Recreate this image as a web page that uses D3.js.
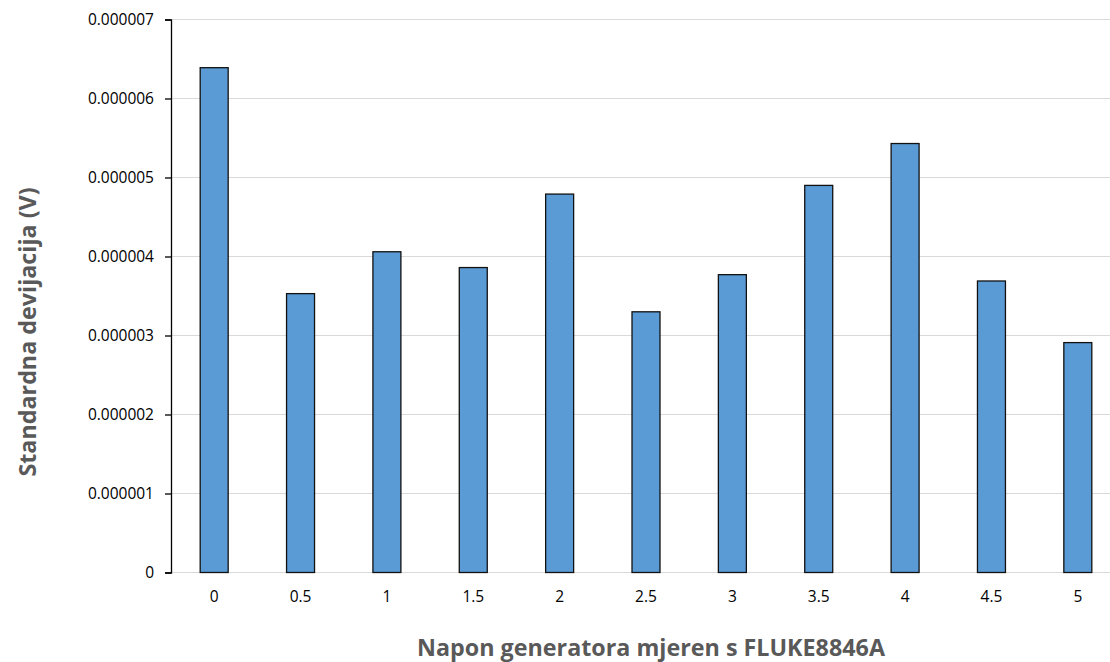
<!DOCTYPE html>
<html><head><meta charset="utf-8">
<script src="https://cdn.jsdelivr.net/npm/d3@7"></script>
<style>body{margin:0;background:#fff}svg{display:block}text{font-family:"Open Sans","Liberation Sans",sans-serif}</style>
</head><body><svg id="c" width="1110" height="662"></svg>
<script>
const categories = ["0","0.5","1","1.5","2","2.5","3","3.5","4","4.5","5"];
const values = [6.39e-6,3.53e-6,4.06e-6,3.86e-6,4.79e-6,3.30e-6,3.77e-6,4.90e-6,5.43e-6,3.69e-6,2.91e-6];
const yTicks = [0,1e-6,2e-6,3e-6,4e-6,5e-6,6e-6,7e-6];
const yTickLabels = ["0","0.000001","0.000002","0.000003","0.000004","0.000005","0.000006","0.000007"];
const xTitle = "Napon generatora mjeren s FLUKE8846A";
const yTitle = "Standardna devijacija (V)";

(function(){
const svg = d3.select("#c");
const mLeft = 171, mRight = 1121, mTop = 19.5, mBottom = 572.5;
const x = d3.scaleBand().domain(categories).range([mLeft, mRight]).paddingInner(0.676).paddingOuter(0.338);
const y = d3.scaleLinear().domain([0, 7e-6]).range([mBottom, mTop]);

svg.append("g").selectAll("line").data(yTicks).join("line")
  .attr("x1", mLeft).attr("x2", 1110)
  .attr("y1", d => y(d)).attr("y2", d => y(d))
  .attr("stroke", "#d9d9d9").attr("stroke-width", 1.2);

svg.append("g").selectAll("rect").data(values).join("rect")
  .attr("x", (d,i) => x(categories[i]))
  .attr("width", x.bandwidth())
  .attr("y", d => y(d))
  .attr("height", d => mBottom - y(d))
  .attr("fill", "#5b9bd5").attr("stroke", "#111").attr("stroke-width", 1.3);

const ya = d3.axisLeft(y).tickValues(yTicks).tickFormat((d,i) => yTickLabels[i]).tickSize(6).tickPadding(11);
const gy = svg.append("g").attr("transform", `translate(${mLeft},0)`).call(ya);
gy.select(".domain").attr("stroke", "#000").attr("stroke-width", 1.3);
gy.selectAll(".tick line").attr("stroke", "#000").attr("stroke-width", 1.3);
gy.selectAll("text").attr("font-size", 15.5).attr("fill", "#000").attr("font-family", "'Open Sans',sans-serif");

const xa = d3.axisBottom(x).tickSize(0).tickPadding(18);
const gx = svg.append("g").attr("transform", `translate(0,${mBottom})`).call(xa);
gx.select(".domain").remove();
gx.selectAll("text").attr("font-size", 15.5).attr("fill", "#000").attr("font-family", "'Open Sans',sans-serif");

svg.append("text").attr("x", 651).attr("y", 656).attr("text-anchor", "middle")
  .attr("font-size", 23.3).attr("font-weight", "bold").attr("fill", "#595959").text(xTitle);
svg.append("text").attr("transform", "translate(28,332) rotate(-90)").attr("text-anchor", "middle")
  .attr("dy", "0.35em").attr("font-size", 23.3).attr("font-weight", "bold").attr("fill", "#595959").text(yTitle);
})();
</script></body></html>
